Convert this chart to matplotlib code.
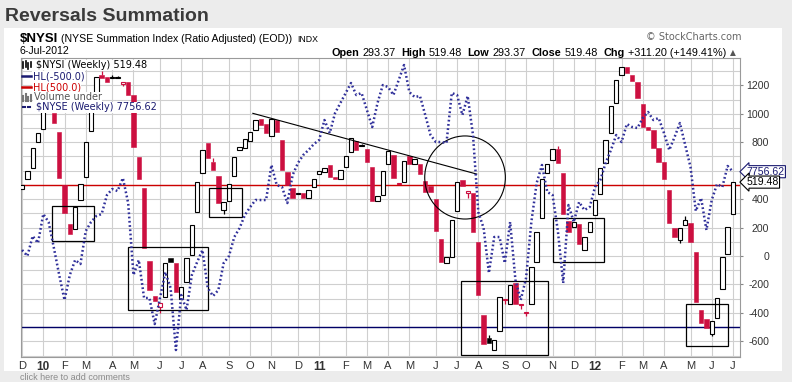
import matplotlib
matplotlib.use('Agg')
import matplotlib.pyplot as plt
from matplotlib.patches import Rectangle, Ellipse
from matplotlib.lines import Line2D
import numpy as np
import pandas as pd

W, H = 792, 382

# ---------------- data ----------------
first_week = '2009-12-07'   # weekly bars (week starting Monday)

opens = [471, 539, 621, 804, 893, 1060, 1005, 874, 499, 223,
         190, 392, 557, 879, 1144, 1272, 1255, 1248, 1250, 1207,
         1225, 1132, 698, 476, -35, -279, -356, -290, -12, -51,
         -302, -185, 7, 311, 581, 797, 663, 562, 323, 389,
         560, 743, 761, 810, 886, 961, 928, 844, 956, 815,
         593, 476, 434, 445, 406, 483, 576, 588, 640, 555,
         541, 624, 729, 810, 772, 752, 624, 387, 429, 645,
         710, 505, 518, 703, 645, 645, 527, 494, 401, 120,
         -51, -5, 318, 534, 441, 441, 96, -415, -579, -661,
         -525, -312, -340, -188, -345, -400, -340, -40, 265, 581,
         675, 750, 581, 246, 202, 225, 42, 171, 288, 434,
         652, 863, 1073, 1272, 1331, 1272, 1221, 1066, 909, 886,
         761, 663, 464, 195, 112, 218, 230, 30, -380, -445,
         -550, -438, -234, 12, 293.37]

closes = [499, 598, 757, 863, 1050, 1110, 935, 546, 300, 153,
          342, 504, 804, 1061, 1261, 1254, 1220, 1252, 1254, 1220,
          1132, 768, 539, 54, -239, -314, -333, -51, -44, -251,
          -220, -16, 218, 522, 745, 687, 605, 370, 377, 504,
          694, 764, 820, 870, 954, 921, 863, 960, 870, 605,
          499, 406, 437, 410, 462, 539, 598, 621, 557, 540,
          605, 703, 827, 745, 776, 663, 387, 424, 598, 738,
          550, 510, 670, 645, 680, 574, 452, 450, 178, -44,
          -9, 251, 522, 494, 459, 167, -274, -621, -615, -590,
          -290, -306, -204, -340, -343, -393, -75, 171, 541, 647,
          750, 652, 293, 171, 237, 82, 131, 237, 394, 617,
          815, 1054, 1237, 1326, 1284, 1232, 1113, 909, 886, 761,
          663, 541, 230, 136, 195, 253, 96, -325, -473, -508,
          -455, -293, -5, 206, 519.48]

wick_high = {'2010-03-22': 1300, '2010-04-05': 1270, '2010-04-12': 1268,
             '2010-08-16': 690, '2011-02-28': 790, '2011-08-15': -555,
             '2011-11-14': 770, '2012-04-30': 281}
wick_low = {'2010-04-19': 1192, '2010-06-07': -400, '2010-08-30': 293,
            '2011-07-18': 406, '2011-09-05': -335, '2011-09-26': -370,
            '2011-10-03': -425, '2012-04-23': 94, '2012-06-04': -565}

nyse = [7130, 7082, 7242, 7186, 7418, 7354, 7146, 6930, 6730, 6930,
        7050, 7018, 7282, 7354, 7402, 7418, 7570, 7618, 7602, 7706,
        7506, 6930, 7050, 6746, 6746, 6538, 6746, 6954, 6826, 6330,
        6770, 6650, 6930, 7034, 7130, 6826, 6762, 6810, 7026, 7082,
        7234, 7306, 7410, 7474, 7530, 7530, 7530, 7810, 7650, 7634,
        7506, 7730, 7826, 7890, 7930, 7978, 8010, 8170, 8066, 8226,
        8306, 8386, 8466, 8370, 8386, 8250, 8114, 8306, 8450, 8434,
        8370, 8490, 8610, 8394, 8354, 8362, 8210, 8050, 7994, 7994,
        7986, 8386, 8370, 8210, 8362, 8050, 7434, 7306, 6946, 7234,
        7234, 7026, 7354, 6890, 6730, 6906, 7354, 7666, 7810, 7594,
        7570, 7282, 6866, 7490, 7354, 7514, 7450, 7474, 7634, 7690,
        7826, 7930, 8050, 7994, 8138, 8114, 8106, 8186, 8234, 8170,
        8186, 8066, 7930, 8034, 8146, 7970, 7794, 7442, 7546, 7290,
        7530, 7658, 7634, 7802, 7756.62]

hl_upper = 500.0
hl_lower = -500.0
y_ticks = [-600, -400, -200, 0, 200, 400, 600, 800, 1000, 1200]
y_labels = ['-600', '-400', '-200', '0', '200', '400', '', '800', '1000', '1200']  # 600 hidden by flag

# annotation shapes drawn on the chart (week index, value)
boxes = [(1.7 + 4, 9.6 + 4, 351, 105), (16.0 + 4, 31.0 + 4, 61, -380),
         (31.3 + 4, 37.5 + 4, 476, 272), (78.7 + 4, 95.2 + 4, -174, -696),
         (96.1 + 4, 105.6 + 4, 265, -42), (121.1 + 4, 129.1 + 4, -340, -633)]
trend = ((39.5 + 4, 1003), (81.7 + 4, 576))
circle = (79.5 + 4, 552, 7.6, 292)

# ---------------- figure ----------------
RED = '#cc1040'
NAVY = '#1a1a70'
DOTS = '#30309a'

def fx(px):
    return px / W

def fy(py):
    return 1 - py / H

fig = plt.figure(figsize=(W / 100, H / 100), dpi=100, facecolor='#ececec')
fig.patches.append(Rectangle((fx(4), fy(371)), fx(782) - fx(4), fy(28) - fy(371),
                             transform=fig.transFigure, facecolor='white',
                             edgecolor='none', zorder=-5))

ax = fig.add_axes([fx(20.7), fy(357), fx(740) - fx(20.7), fy(58) - fy(357)])
ax.set_facecolor('white')

n = len(opens)
weeks = pd.date_range(first_week, periods=n, freq='7D')
xs = np.arange(n)

Y0, Y1 = -710, 1392
ax.set_xlim(-0.26, 135.33)
ax.set_ylim(Y0, Y1)

# NYSE overlay axis (created first so the main axis keeps its right-hand ticks)
N0, N1 = 6274.2, 8666.2
ax2 = ax.twinx()
ax2.set_ylim(N0, N1)
ax2.set_yticks([])
for s in ax2.spines.values():
    s.set_visible(False)

# grid / ticks
tick_idx = [k for k in range(n) if k == 0 or weeks[k].month != weeks[k - 1].month]
tick_lab = [weeks[k].strftime('%y') if weeks[k].month == 1 else weeks[k].strftime('%b')[0]
            for k in tick_idx]
ax.set_xticks(tick_idx)
ax.set_xticklabels(tick_lab)
for t, lab in zip(ax.get_xticklabels(), tick_lab):
    t.set_fontfamily('Liberation Sans')
    t.set_fontsize(8)
    t.set_color('#333333')
    if lab.isdigit():
        t.set_fontweight('bold')
        t.set_fontsize(8.5)
ax.yaxis.tick_right()
ax.set_yticks(y_ticks)
ax.set_yticklabels(y_labels)
ax.set_yticks(np.arange(-700, 1400, 100), minor=True)
ax.grid(True, which='both', color='#cfcfcf', lw=0.8, zorder=0)
ax.set_axisbelow(True)
ax.tick_params(axis='x', length=0, pad=3)
ax.tick_params(axis='y', which='major', right=True, left=False, labelright=True,
               labelleft=False, length=2, pad=19, colors='#888888',
               labelcolor='#333333', labelsize=7.6)
ax.tick_params(axis='y', which='minor', length=0)
for t in ax.get_yticklabels():
    t.set_horizontalalignment('right')
    t.set_fontfamily('Liberation Sans')
for s in ax.spines.values():
    s.set_color('#9a9a9a')
    s.set_linewidth(0.8)

# horizontal levels
ax.axhline(hl_upper, color='#cc0000', lw=1.0, zorder=2)
ax.axhline(hl_lower, color='#000066', lw=1.0, zorder=2)

# candles
bw = 0.82
for k in range(n):
    o, c = opens[k], closes[k]
    prev = closes[k - 1] if k > 0 else o
    col = RED if c < prev else 'black'
    lo_b, hi_b = min(o, c), max(o, c)
    d = weeks[k].strftime('%Y-%m-%d')
    if d in wick_high:
        ax.vlines(k, hi_b, wick_high[d], color=col, lw=0.9, zorder=3)
    if d in wick_low:
        ax.vlines(k, wick_low[d], lo_b, color=col, lw=0.9, zorder=3)
    h = max(hi_b - lo_b, 7)
    if c < o:
        ax.add_patch(Rectangle((k - bw / 2, lo_b), bw, h, facecolor=col,
                               edgecolor=col, lw=0.4, zorder=4))
    else:
        ax.add_patch(Rectangle((k - bw / 2, lo_b), bw, h, facecolor='white',
                               edgecolor=col, lw=0.8, zorder=4))

# annotation drawings
for x0, x1, top, bot in boxes:
    ax.add_patch(Rectangle((x0, bot), x1 - x0, top - bot, fill=False,
                           edgecolor='black', lw=0.9, zorder=5))
ax.plot([trend[0][0], trend[1][0]], [trend[0][1], trend[1][1]], color='black',
        lw=0.8, zorder=5)
ax.add_patch(Ellipse((circle[0], circle[1]), circle[2] * 2, circle[3] * 2, fill=False,
                     edgecolor='black', lw=0.8, zorder=5))

ax2.plot(xs, nyse, color=DOTS, lw=1.8, linestyle=(0, (0.7, 1.0)),
         dash_capstyle='butt', zorder=3)

# value flags at right (both drawn on the overlay axis so they sit above tick labels)
ax2.annotate(f'{nyse[-1]:.2f}', xy=(1.0, nyse[-1]), xycoords=('axes fraction', 'data'),
             xytext=(4.5, 0), textcoords='offset points', va='center', ha='left',
             fontsize=7.6, family='Liberation Sans', color=NAVY, zorder=20,
             annotation_clip=False,
             bbox=dict(boxstyle='larrow,pad=0.1', fc='white', ec=NAVY, lw=0.8))
close_on_ax2 = N0 + (closes[-1] - Y0) * (N1 - N0) / (Y1 - Y0)
ax2.annotate(f'{closes[-1]:.2f}', xy=(1.0, close_on_ax2),
             xycoords=('axes fraction', 'data'),
             xytext=(4.5, 0), textcoords='offset points', va='center', ha='left',
             fontsize=7.6, family='Liberation Sans', color='black', zorder=20,
             annotation_clip=False,
             bbox=dict(boxstyle='larrow,pad=0.1', fc='white', ec='black', lw=0.8))

# ---------------- header ----------------
fig.text(fx(5), fy(20.7), 'Reversals Summation', fontsize=14, fontweight='bold',
         family='Liberation Sans', color='#3a3a3a', va='baseline')
fig.text(fx(20), fy(41.7), '$NYSI', fontsize=9.5, fontweight='bold',
         family='Liberation Sans', color='black', va='baseline')
fig.text(fx(61), fy(41.7), '(NYSE Summation Index (Ratio Adjusted) (EOD))',
         fontsize=7.6, family='Liberation Sans', color='black', va='baseline')
fig.text(fx(297.5), fy(41.5), 'INDX', fontsize=6.3, family='Liberation Sans',
         color='black', va='baseline')
fig.text(fx(20), fy(54), '6-Jul-2012', fontsize=7.6, family='Liberation Sans',
         color='black', va='baseline')
fig.text(fx(741), fy(40.5), '\u00a9 StockCharts.com', fontsize=7, family='DejaVu Sans',
         color='#666666', va='baseline', ha='right')

ohlc = [('Open', True), ('293.37', False), ('High', True), ('519.48', False),
        ('Low', True), ('293.37', False), ('Close', True), ('519.48', False),
        ('Chg', True), ('+311.20 (+149.41%)', False)]
renderer = fig.canvas.get_renderer()
x_px = 331.0
space_px = 3.3
gap_px = 5.5
for j, (txt, bold) in enumerate(ohlc):
    t = fig.text(fx(x_px), fy(55.5), txt, fontsize=7.8, family='Liberation Sans',
                 fontweight='bold' if bold else 'normal', color='black', va='baseline')
    wpx = t.get_window_extent(renderer=renderer).width
    x_px += wpx + (space_px if bold else gap_px)
fig.text(fx(x_px - 1), fy(55.5), '\u25b2', fontsize=5.5, family='DejaVu Sans',
         color='#555555', va='baseline')

# ---------------- in-chart legend ----------------
leg_bbox = dict(facecolor='white', edgecolor='none', pad=0.3)
fig.text(fx(35.5), fy(65), f'$NYSI (Weekly) {closes[-1]:.2f}', fontsize=7,
         family='DejaVu Sans', color='black', va='center', bbox=leg_bbox, zorder=10)
fig.text(fx(32.5), fy(76.3), f'HL({hl_lower:.1f})', fontsize=7, family='DejaVu Sans',
         color=NAVY, va='center', bbox=leg_bbox, zorder=10)
fig.text(fx(32.5), fy(87), f'HL({hl_upper:.1f})', fontsize=7, family='DejaVu Sans',
         color='#cc0000', va='center', bbox=leg_bbox, zorder=10)
fig.text(fx(33.5), fy(97.5), 'Volume under', fontsize=7, family='DejaVu Sans',
         color='#555555', va='center', bbox=leg_bbox, zorder=10)
fig.text(fx(35.5), fy(107.5), f'$NYSE (Weekly) {nyse[-1]:.2f}', fontsize=7,
         family='DejaVu Sans', color=NAVY, va='center', bbox=leg_bbox, zorder=10)

# legend icons
def fline(x0, x1, y0, y1, **kw):
    fig.add_artist(Line2D([fx(x0), fx(x1)], [fy(y0), fy(y1)], transform=fig.transFigure, **kw))

fline(23, 23, 62, 68, color='black', lw=1.2, zorder=11)
fline(25.5, 25.5, 61, 67, color='black', lw=1.2, zorder=11)
fline(28, 28, 63, 69, color='black', lw=1.2, zorder=11)
fline(30.5, 30.5, 62, 67, color='black', lw=1.2, zorder=11)
fline(22, 31, 76.3, 76.3, color=NAVY, lw=1.8, zorder=11)
fline(22, 31, 87, 87, color='#cc0000', lw=1.8, zorder=11)
fline(23, 23, 96, 101, color='#777777', lw=1.5, zorder=11)
fline(25.7, 25.7, 94, 101, color='#777777', lw=1.5, zorder=11)
fline(28.4, 28.4, 97, 101, color='#777777', lw=1.5, zorder=11)
fline(30.8, 30.8, 95, 101, color='#777777', lw=1.5, zorder=11)
fline(23, 24.6, 107.5, 107.5, color=NAVY, lw=1.5, zorder=11)
fline(28, 29.6, 107.5, 107.5, color=NAVY, lw=1.5, zorder=11)

# footer
fig.text(fx(20), fy(378), 'click here to add comments', fontsize=6.5,
         family='Liberation Sans', color='#8a8a8a', va='center')

fig.savefig('out.png', dpi=100, facecolor=fig.get_facecolor())
